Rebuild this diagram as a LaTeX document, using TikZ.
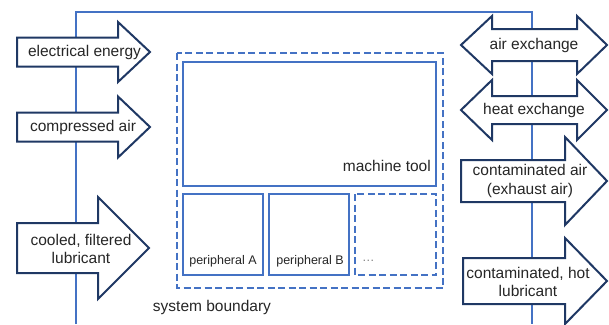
\documentclass[tikz,border=0pt]{standalone}
\usepackage{fontspec}
\setmainfont{Liberation Sans}
\definecolor{bnd}{HTML}{4472C4}
\definecolor{navy}{HTML}{1F3864}
\definecolor{txt}{HTML}{262626}
\newcommand\rarr[6]{\draw[flow] (#1,{#4-#5}) -- (#2,{#4-#5}) -- (#2,{#4-#6}) -- (#3,#4) -- (#2,{#4+#6}) -- (#2,{#4+#5}) -- (#1,{#4+#5}) -- cycle;}
\newcommand\darr[7]{\draw[flow] (#1,#5) -- (#2,{#5-#7}) -- (#2,{#5-#6}) -- (#3,{#5-#6}) -- (#3,{#5-#7}) -- (#4,#5) -- (#3,{#5+#7}) -- (#3,{#5+#6}) -- (#2,{#5+#6}) -- (#2,{#5+#7}) -- cycle;}
\begin{document}
\begin{tikzpicture}[x=1pt,y=-1pt,
  bline/.style={draw=bnd, line width=2pt},
  flow/.style={draw=navy, fill=white, line width=2pt, line join=miter},
  lbl/.style={text=txt, font=\fontsize{15.5}{18.5}\selectfont, align=center, inner sep=0pt},
  small/.style={text=txt, font=\fontsize{12.5}{14}\selectfont, inner sep=0pt},
  boxx/.style={draw=bnd, line width=2.5pt},
  dbox/.style={draw=bnd, line width=2pt, dash pattern=on 7pt off 3.5pt}]
\useasboundingbox (0,0) rectangle (609,324);
\fill[white] (0,0) rectangle (609,324);
% system boundary
\draw[bline] (76,324) -- (76,12) -- (532,12) -- (532,324);
% input arrows
\rarr{17}{118}{150}{52}{14.5}{30}
\rarr{17}{118}{150}{127}{14.5}{30.5}
\rarr{17}{98}{149}{248}{25}{51}
\node[lbl] (ee) at (84.5,52) {electrical energy};
\node[lbl] (ca) at (83,127) {compressed air};
\node[lbl] (cl) at (81,249) {cooled, filtered\\lubricant};
% output arrows
\darr{461}{492}{577}{607}{45}{16}{29}
\darr{461}{492}{577}{607}{110}{14}{30}
\rarr{461}{565}{607}{181}{21}{44}
\rarr{463}{565}{607}{281}{23}{43}
\node[lbl] (ae) at (534,45) {air exchange};
\node[lbl] (he) at (534,110) {heat exchange};
\node[lbl] (cai) at (530,181) {contaminated air\\(exhaust air)};
\node[lbl] (chl) at (528,282) {contaminated, hot\\lubricant};
% system
\draw[dbox] (177,53) rectangle (443,288);
\draw[boxx] (183,62) rectangle (436,186);
\draw[boxx] (183,194) rectangle (263,275);
\draw[boxx] (269,194) rectangle (349,275);
\draw[dbox] (355,194) rectangle (436,275);
\node[lbl, anchor=east] (mt) at (431,166) {machine tool};
\node[small] (pa) at (223,261) {peripheral A};
\node[small] (pb) at (310,261) {peripheral B};
\node[small, text=gray, anchor=west] (etc) at (362,261) {…};
\node[lbl] (sb) at (212,307) {system boundary};
\end{tikzpicture}
\end{document}
